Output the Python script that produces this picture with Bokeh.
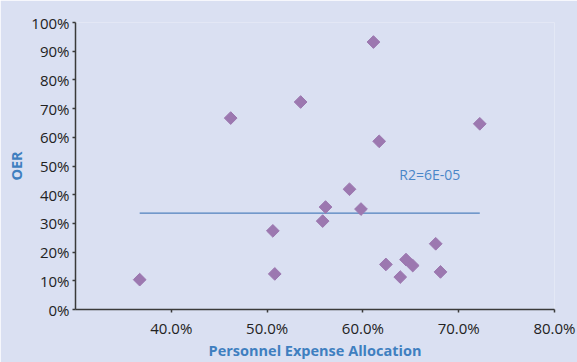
import math
from bokeh.plotting import figure
from bokeh.models import Range1d, FixedTicker, PrintfTickFormatter, Label
from bokeh.embed import file_html
from bokeh.resources import INLINE

# Data (percent units)
allocation = [36.7, 46.2, 53.5, 61.1, 72.2, 61.7, 58.6, 56.1, 59.8, 55.8,
              50.6, 50.8, 62.4, 63.9, 64.5, 65.2, 67.6, 68.1]
oer = [10.4, 66.7, 72.3, 93.2, 64.7, 58.6, 41.9, 35.7, 35.0, 30.8,
       27.4, 12.4, 15.7, 11.3, 17.4, 15.3, 22.9, 13.1]
trend_x = [36.7, 72.2]
trend_y = [33.6, 33.6]
r2_label = "R2=6E-05"
x_title = "Personnel Expense Allocation"
y_title = "OER"
x_ticks = [40, 50, 60, 70, 80]
y_ticks = [0, 10, 20, 30, 40, 50, 60, 70, 80, 90, 100]

BG = "#dae0f2"
FONT = "Open Sans"
TITLE_COLOR = "#3f7fc0"

p = figure(width=577, height=362, output_backend="svg", toolbar_location=None,
           x_range=Range1d(30, 80), y_range=Range1d(0, 100),
           min_border_left=75, min_border_right=23, min_border_top=22, min_border_bottom=52)
p.background_fill_color = BG
p.border_fill_color = BG
p.outline_line_color = None
p.xgrid.visible = False
p.ygrid.visible = False

for ax in (p.xaxis[0], p.yaxis[0]):
    ax.axis_line_color = "#3a3a3a"
    ax.axis_line_width = 1.5
    ax.major_tick_line_color = "#3a3a3a"
    ax.major_tick_line_width = 1.5
    ax.major_tick_out = 3
    ax.major_tick_in = 0
    ax.minor_tick_line_color = None
    ax.major_label_text_font = FONT
    ax.major_label_text_font_size = "15px"
    ax.major_label_text_color = "#222222"
    ax.axis_label_text_font = FONT
    ax.axis_label_text_font_size = "14.5px"
    ax.axis_label_text_font_style = "bold"
    ax.axis_label_text_color = TITLE_COLOR

p.xaxis[0].ticker = FixedTicker(ticks=x_ticks)
p.xaxis[0].formatter = PrintfTickFormatter(format="%.1f%%")
p.xaxis[0].major_label_standoff = 5
p.xaxis[0].axis_label = x_title
p.xaxis[0].axis_label_standoff = 0

p.yaxis[0].ticker = FixedTicker(ticks=y_ticks)
p.yaxis[0].formatter = PrintfTickFormatter(format="%d%%")
p.yaxis[0].major_label_standoff = 3
p.yaxis[0].axis_label = y_title
p.yaxis[0].axis_label_standoff = 2

p.line(trend_x, trend_y, line_color="#4f81bd", line_width=1.2)
p.scatter(allocation, oer, marker="square", angle=math.pi / 4, size=9,
          fill_color="#9c78b0", line_color="#9c78b0")

p.add_layout(Label(x=63.8, y=46.9, text=r2_label, text_font=FONT, text_font_size="14px",
                   text_color="#4a86c8", text_baseline="middle", text_align="left"))

open("out.html", "w").write(file_html(p, INLINE))
